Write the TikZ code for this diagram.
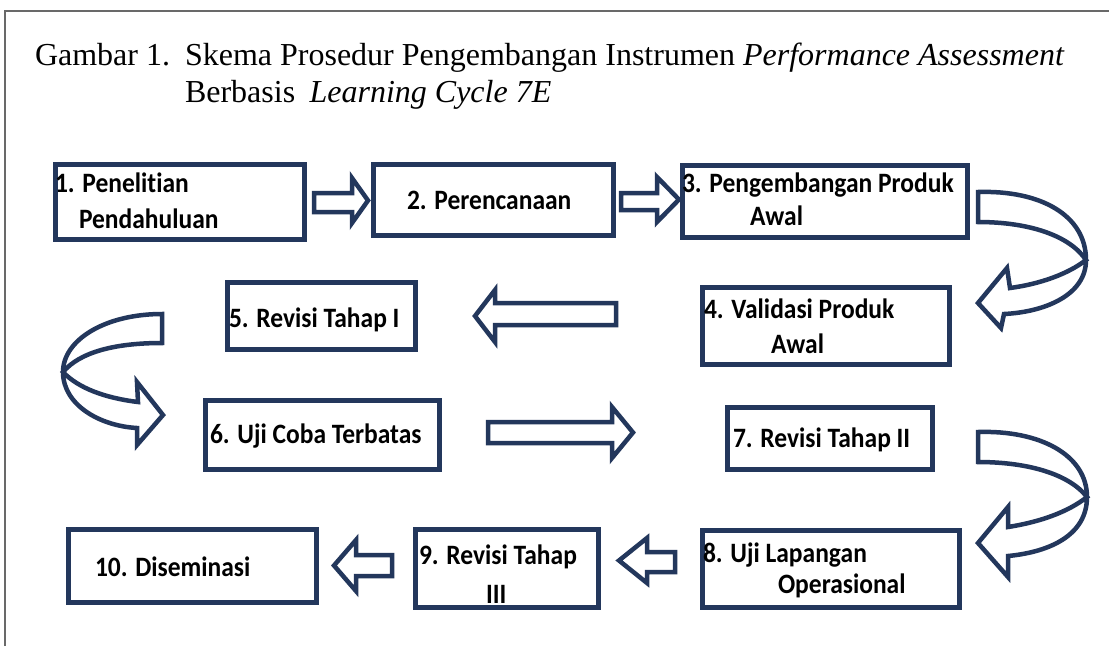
\documentclass[tikz,border=0pt]{standalone}
\usepackage{fontspec}
\setmainfont{Liberation Serif}
\newfontfamily\boxfont[Ligatures={NoCommon,NoRare,NoContextual},RawFeature={-liga;-clig;-calt}]{Carlito}
\definecolor{navy}{RGB}{35,55,92}
\definecolor{framegray}{RGB}{105,105,105}
\newcommand\bx[1]{\scalebox{1}[1.1]{#1}}
\newcommand\blockarr[7]{\draw[blk] (#1,#4) -- (#2,#4) -- (#2,#6) -- (#3,{(#6+#7)/2}) -- (#2,#7) -- (#2,#5) -- (#1,#5) -- cycle;}
\tikzset{
  box/.style={draw=navy, line width=5pt, fill=white, rectangle, inner sep=0pt, outer sep=0pt},
  lbl/.style={anchor=base west, inner sep=0pt, outer sep=0pt, font=\boxfont\bfseries\fontsize{25.5}{26}\selectfont},
  ttl/.style={anchor=base west, inner sep=0pt, outer sep=0pt, font=\fontsize{32}{32}\selectfont},
  blk/.style={draw=navy, line width=4.5pt, fill=white, line join=miter, miter limit=4}
}
\begin{document}
\begin{tikzpicture}[x=1pt,y=-1pt]
\useasboundingbox (0,0) rectangle (1109,646);
\fill[white] (0,0) rectangle (1109,646);
% frame
\draw[framegray, line width=1.4pt] (5,646) -- (5,11) -- (1109,11);
% title
\node[ttl] (g1) at (35,65) {Gambar 1.};
\node[ttl] (g2) at (185,65) {Skema Prosedur Pengembangan Instrumen \textit{Performance Assessment}};
\node[ttl] (g3) at (185,102) {Berbasis\hspace{0.45em}\textit{Learning Cycle 7E}};
% boxes
\node[box, minimum width=249pt, minimum height=75pt] (b1) at (180,202) {};
\node[box, minimum width=240pt, minimum height=71pt] (b2) at (493.5,200) {};
\node[box, minimum width=285pt, minimum height=72pt] (b3) at (825,201.5) {};
\node[box, minimum width=247pt, minimum height=77pt] (b4) at (826,326) {};
\node[box, minimum width=188pt, minimum height=67pt] (b5) at (321.5,316) {};
\node[box, minimum width=234pt, minimum height=69pt] (b6) at (322.5,435) {};
\node[box, minimum width=205pt, minimum height=62pt] (b7) at (830,438.5) {};
\node[box, minimum width=257pt, minimum height=77pt] (b8) at (831,569) {};
\node[box, minimum width=183pt, minimum height=78pt] (b9) at (507,568.5) {};
\node[box, minimum width=248pt, minimum height=73pt] (b10) at (192.5,566) {};
% labels
\node[lbl] (t1a) at (55,192) {\bx{1. Penelitian}};
\node[lbl] (t1b) at (79,228) {\bx{Pendahuluan}};
\node[lbl] (t2) at (407,209) {\bx{2. Perencanaan}};
\node[lbl] (t3a) at (682,192) {\bx{3. Pengembangan Produk}};
\node[lbl] (t3b) at (750,225) {\bx{Awal}};
\node[lbl] (t4a) at (704,318) {\bx{4. Validasi Produk}};
\node[lbl] (t4b) at (771,353) {\bx{Awal}};
\node[lbl] (t5) at (229,327) {\bx{5. Revisi Tahap I}};
\node[lbl] (t6) at (210,443) {\bx{6. Uji Coba Terbatas}};
\node[lbl] (t7) at (733,447) {\bx{7. Revisi Tahap II}};
\node[lbl] (t8a) at (703,562) {\bx{8. Uji Lapangan}};
\node[lbl] (t8b) at (778,593) {\bx{Operasional}};
\node[lbl] (t9a) at (419,564) {\bx{9. Revisi Tahap}};
\node[lbl] (t9b) at (486,603) {\bx{III}};
\node[lbl] (t10) at (95,576) {\bx{10. Diseminasi}};
% straight block arrows: tail, head base, tip, shaft y1, shaft y2, head y1, head y2
\blockarr{314}{352}{368}{193}{212}{178}{223}
\blockarr{621}{657}{679}{193}{210}{177}{222}
\blockarr{616}{495}{475}{303}{325}{290}{342}
\blockarr{488}{612}{633}{422}{443}{407}{458}
\blockarr{675}{647}{619}{552}{572}{538}{583}
\blockarr{392}{356}{334}{555}{576}{540}{591}
% curved arrow 3 -> 4
\draw[blk] (978,192) .. controls (1040,190) and (1086,215) .. (1086,260)
  .. controls (1086,295) and (1045,312) .. (1004,314)
  -- (1001,328) -- (978,303) -- (1007,268) -- (1010,288)
  .. controls (1040,284) and (1068,274) .. (1086,260)
  .. controls (1070,236) and (1030,222) .. (978,222) -- cycle;
% curved arrow 5 -> 6
\draw[blk] (162,314) .. controls (105,314) and (63,340) .. (63,372)
  .. controls (63,405) and (100,426) .. (137,428)
  -- (137,445) -- (163,415) -- (137,382) -- (138,402)
  .. controls (105,398) and (78,388) .. (63,372)
  .. controls (80,352) and (115,343) .. (162,343) -- cycle;
% curved arrow 7 -> 8
\draw[blk] (978,432) .. controls (1040,430) and (1087,455) .. (1087,497)
  .. controls (1087,535) and (1050,552) .. (1008,556)
  -- (1008,577) -- (978,543) -- (1008,507) -- (1008,527)
  .. controls (1040,522) and (1068,512) .. (1087,497)
  .. controls (1070,475) and (1030,462) .. (978,462) -- cycle;
\end{tikzpicture}
\end{document}
